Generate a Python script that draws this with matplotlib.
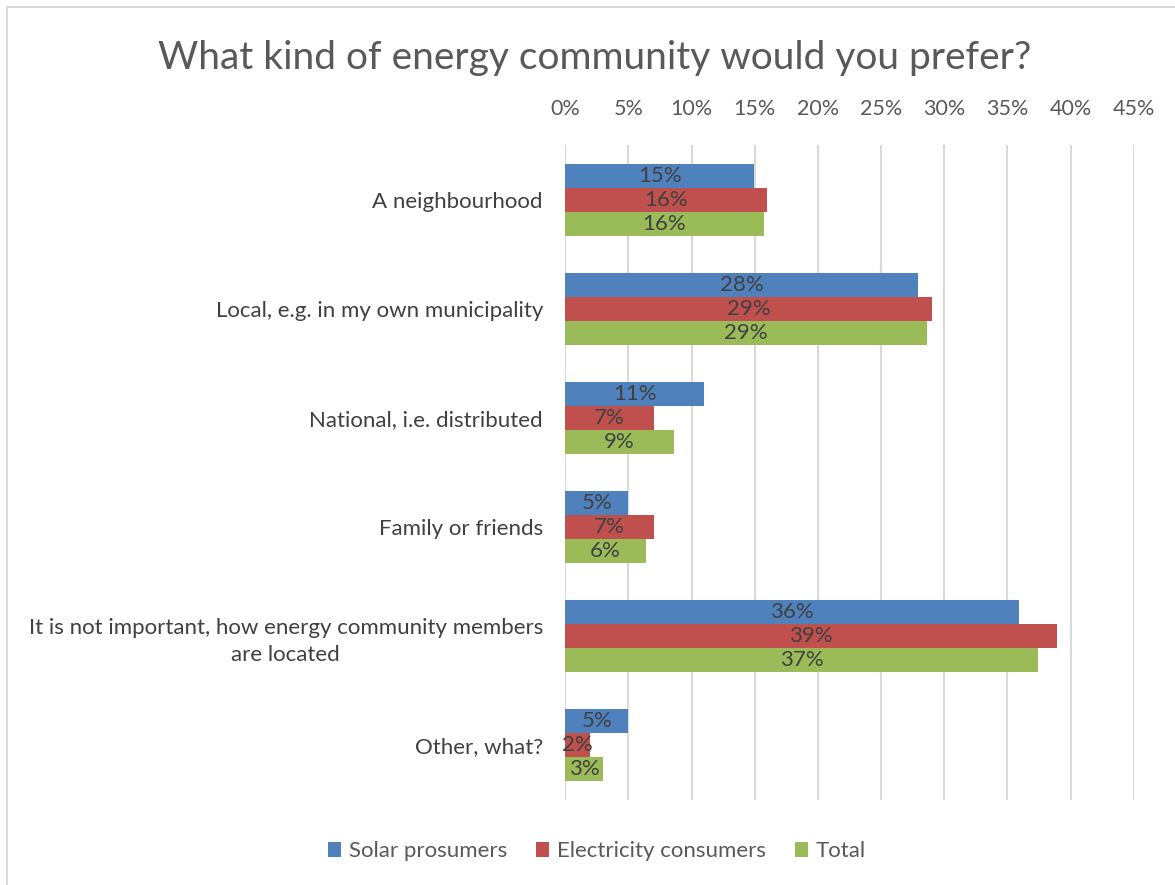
import numpy as np
import matplotlib.pyplot as plt
from matplotlib.patches import Rectangle

# Data
categories = ['A neighbourhood', 'Local, e.g. in my own municipality', 'National, i.e. distributed',
              'Family or friends', 'It is not important, how energy community members\nare located',
              'Other, what?']
solar = [14.95, 27.9, 11.0, 5.0, 35.9, 5.0]
consumers = [16.0, 29.0, 7.0, 7.0, 38.9, 2.0]
total = [15.7, 28.6, 8.6, 6.4, 37.4, 3.0]
series_names = ['Solar prosumers', 'Electricity consumers', 'Total']
colors = ['#4F81BD', '#C0504D', '#9BBB59']

plt.rcParams['font.family'] = ['Lato', 'DejaVu Sans']

fig = plt.figure(figsize=(11.75, 8.85), dpi=100)
ax = fig.add_axes([0.481, 0.0966, 0.484, 0.739])

# Rahmen oben und links
fig.patches.append(Rectangle((7 / 1175, -0.1), 1.2, 1.1 - 7 / 885, transform=fig.transFigure,
                             fill=False, edgecolor='#D9D9D9', linewidth=1.5))

y = np.arange(len(categories))
h = 0.22
for k, vals in enumerate([solar, consumers, total]):
    pos = y + (k - 1) * h
    ax.barh(pos, vals, height=h, color=colors[k], label=series_names[k])
    for v, p in zip(vals, pos):
        ax.text(v / 2, p, f'{round(v):.0f}%', ha='center', va='center',
                fontsize=16, color='#404040')

ax.set_xlim(0, 45)
ax.set_ylim(len(categories) - 0.5, -0.5)
ax.set_xticks(np.arange(0, 46, 5))
ax.set_xticklabels([f'{t}%' for t in range(0, 46, 5)])
ax.xaxis.tick_top()
ax.tick_params(axis='x', length=0, labelsize=15.5, labelcolor='#595959', pad=19)
ax.set_yticks(y)
ax.set_yticklabels(categories, fontsize=16, color='#404040', multialignment='center',
                   linespacing=1.45)
ax.tick_params(axis='y', length=0, pad=16)
ax.grid(axis='x', color='#D9D9D9', linewidth=1.5)
ax.set_axisbelow(True)
for s in ax.spines.values():
    s.set_visible(False)

fig.text(0.506, 0.935, 'What kind of energy community would you prefer?', ha='center', va='center',
         fontsize=28, color='#595959')

fig.legend(loc='center', bbox_to_anchor=(0.508, 0.038), ncol=3, frameon=False, fontsize=16,
           handlelength=0.6, handleheight=0.6, columnspacing=1.3, handletextpad=0.35,
           labelcolor='#595959')

fig.savefig('out.png', dpi=100)
